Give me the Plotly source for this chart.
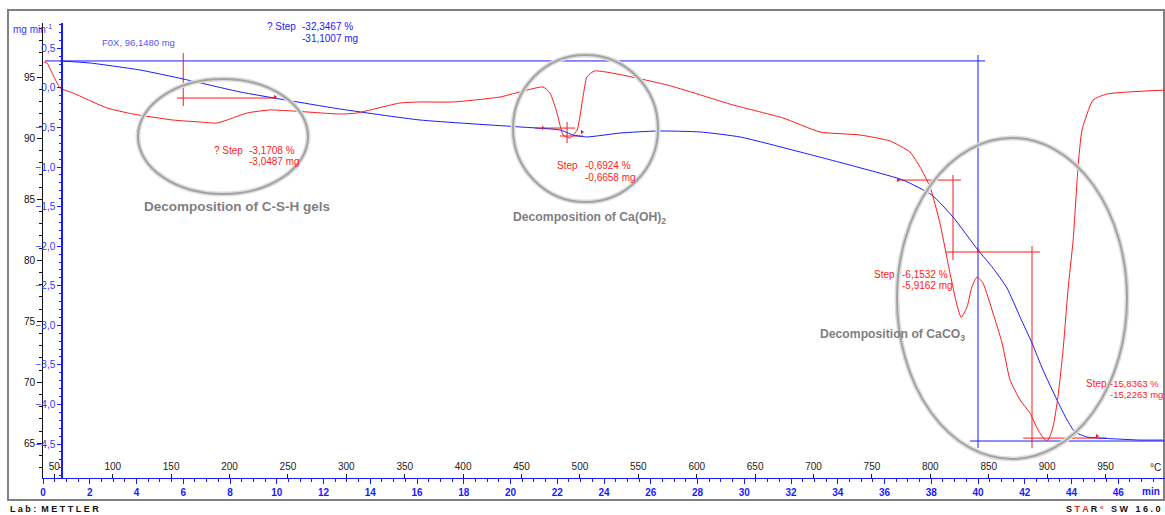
import plotly.graph_objects as go

# ---------------- data ----------------
# TGA curve: time (min) vs mass (mg)
tga_time = [0.73, 2.01, 4.15, 6.0, 8.43, 10.14, 12.71, 16.13, 20.41, 22.12, 22.67, 23.27,
            24.68, 26.27, 28.11, 29.82, 32.39, 34.52, 36.79, 38.03, 38.93, 40.0, 40.64,
            41.24, 41.80, 42.31, 42.78, 43.38, 43.81, 44.15, 44.66, 45.22, 46.93, 47.91]
tga_mass = [96.34, 96.17, 95.60, 94.86, 93.80, 93.22, 92.40, 91.50, 90.93, 90.68, 90.27, 90.11,
            90.43, 90.60, 90.52, 90.11, 88.88, 87.81, 86.58, 85.35, 83.55, 80.84, 79.37,
            77.73, 75.35, 73.22, 71.01, 68.55, 66.91, 65.93, 65.52, 65.43, 65.27, 65.27]

# DTG curve: time (min) vs mg/min
dtg_time = [0.04, 0.17, 0.39, 0.73, 1.28, 2.74, 3.85, 5.56, 6.72, 7.44, 7.87, 8.73, 9.71,
            10.69, 12.71, 13.43, 15.27, 16.13, 17.54, 19.55, 21.39, 21.69, 21.99, 22.25,
            22.55, 22.85, 23.10, 23.27, 23.6, 26.70, 29.52, 31.66, 33.24, 34.95, 36.24,
            37.09, 37.52, 37.95, 38.37, 38.80, 39.10, 39.28, 39.53, 39.74, 39.96, 40.21,
            40.64, 41.03, 41.37, 41.80, 42.22, 42.57, 42.87, 43.0, 43.21, 43.42, 43.64,
            43.85, 44.07, 44.28, 44.45, 44.92, 45.52, 48.0]
dtg_value = [0.327, 0.315, 0.188, 0.0, -0.064, -0.254, -0.330, -0.406, -0.431, -0.444, -0.406,
             -0.317, -0.279, -0.292, -0.330, -0.317, -0.191, -0.178, -0.178, -0.115, 0.011,
             -0.064, -0.317, -0.595, -0.633, -0.532, -0.115, 0.138, 0.214, 0.037, -0.216,
             -0.380, -0.557, -0.595, -0.671, -0.810, -1.0, -1.253, -1.707, -2.339, -2.743,
             -2.90, -2.768, -2.515, -2.389, -2.465, -2.844, -3.223, -3.690, -3.943, -4.107,
             -4.322, -4.449, -4.449, -4.284, -3.905, -3.311, -2.553, -1.921, -0.999, -0.531,
             -0.153, -0.077, -0.027]

# step evaluation lines (time min, mass mg), each a separate segment
red_steps = [
    ([6.0, 6.0], [96.99, 92.64]), ([5.73, 9.93], [93.30, 93.30]),
    ([21.05, 22.76], [90.84, 90.84]), ([22.42, 22.42], [91.34, 89.61]), ([22.12, 23.10], [90.19, 90.19]),
    ([36.58, 39.27], [86.58, 86.58]), ([38.93, 38.93], [86.99, 80.02]),
    ([38.63, 42.65], [80.68, 80.68]), ([42.31, 42.31], [81.17, 64.61]),
    ([41.93, 45.52], [65.43, 65.43]),
]
blue_steps = [
    ([0.09, 40.30], [96.34, 96.34]), ([40.0, 40.0], [96.83, 64.61]), ([39.66, 48.0], [65.19, 65.19]),
]
red_flag_time = [9.93, 21.39, 23.06, 36.58, 40.0, 45.09]
red_flag_mass = [93.38, 90.84, 90.52, 86.58, 80.84, 65.60]

time_ticks = list(range(0, 47, 2))
temp_ticks = list(range(50, 951, 50))
mass_ticks = [65, 70, 75, 80, 85, 90, 95]
dtg_ticks = [0.5, 0.0, -0.5, -1.0, -1.5, -2.0, -2.5, -3.0, -3.5, -4.0, -4.5]

# ---------------- layout geometry ----------------
W, H = 1165, 515
L, R, T, B = 43, 0, 23, 37
PW, PH = W - L - R, H - T - B
BOT = H - B


def pp(x, y):
    return (x - L) / PW, (BOT - y) / PH


BLUE = "#1a1aff"
RED = "#ff1a1a"
FONT = "Liberation Sans, Arial, sans-serif"

fig = go.Figure()

for xs, ys in blue_steps:
    fig.add_trace(go.Scatter(x=xs, y=ys, mode="lines", line=dict(color=BLUE, width=1),
                             hoverinfo="skip", showlegend=False))
for xs, ys in red_steps:
    fig.add_trace(go.Scatter(x=xs, y=ys, mode="lines", line=dict(color=RED, width=1),
                             hoverinfo="skip", showlegend=False))

fig.add_trace(go.Scatter(x=dtg_time, y=dtg_value, yaxis="y2", mode="lines",
                         line=dict(color=RED, width=1, shape="spline", smoothing=0.5),
                         showlegend=False))
fig.add_trace(go.Scatter(x=tga_time, y=tga_mass, mode="lines",
                         line=dict(color=BLUE, width=1, shape="spline", smoothing=0.5),
                         showlegend=False))
fig.add_trace(go.Scatter(x=red_flag_time, y=red_flag_mass, mode="markers",
                         marker=dict(symbol="triangle-right", size=4, color=RED),
                         hoverinfo="skip", showlegend=False))
# invisible trace to activate temperature axis
fig.add_trace(go.Scatter(x=[temp_ticks[0], temp_ticks[-1]], y=[70, 70], xaxis="x2", mode="markers",
                         marker=dict(opacity=0), hoverinfo="skip", showlegend=False))

# ---------------- annotations ----------------
ann = []


def text(x, y, s, color, size=10, bold=False, anchor="left"):
    px_, py_ = pp(x, y)
    ann.append(dict(x=px_, y=py_, xref="paper", yref="paper", text=s, showarrow=False,
                    xanchor=anchor, yanchor="middle",
                    font=dict(family=FONT, size=size, color=color,
                              weight="bold" if bold else "normal")))


text(100, 43, "F0X, 96,1480 mg", "#5555ff", 9.5)
text(265, 27, "? Step", BLUE, 10)
text(300, 27, "-32,3467 %", BLUE, 10)
text(300, 39, "-31,1007 mg", BLUE, 10)

text(212, 150, "? Step", RED, 10)
text(247, 150, "-3,1708 %", RED, 10)
text(247, 161, "-3,0487 mg", RED, 10)

text(555, 165, "Step", RED, 10)
text(583, 165, "-0,6924 %", RED, 10)
text(583, 177, "-0,6658 mg", RED, 10)

text(872, 274, "Step", RED, 10)
text(900, 274, "-6,1532 %", RED, 10)
text(900, 285, "-5,9162 mg", RED, 10)

text(1084, 383, "Step", RED, 10)
text(1108, 383, "-15,8363 %", RED, 9.5)
text(1108, 394, "-15,2263 mg", RED, 9.5)

GRAY = "#7f7f7f"
text(142, 206, "Decomposition of C-S-H gels", GRAY, 13.5, True)
text(511, 218, "Decomposition of Ca(OH)<sub>2</sub>", GRAY, 12.2, True)
text(818, 335, "Decomposition of CaCO<sub>3</sub>", GRAY, 12.2, True)

text(11, 29, "mg min<sup>-1</sup>", "#3333ff", 10)
text(1162, 492, "min", BLUE, 10, True, anchor="right")
text(1163, 467, "°C", "#222222", 10, anchor="right")
text(8, 509, "L a b :  M E T T L E R", "#111111", 9, True)
text(1163, 509, "S <span style='color:#e02020'>T A</span> R <span style='color:#e02020'>°</span>"
     "   S W   1 6 . 0", "#111111", 9, True, anchor="right")

# ---------------- shapes (ellipses, frame) ----------------
shapes = []
ellipses = [(138, 79, 308, 194), (513, 55, 658, 202), (897, 138, 1127, 459)]
for (x0, y0, x1, y1) in ellipses:
    a0, b1 = pp(x0, y0)
    a1, b0 = pp(x1, y1)
    shapes.append(dict(type="circle", xref="paper", yref="paper", x0=a0, x1=a1, y0=b0, y1=b1,
                       line=dict(color="#dddddd", width=5)))
    shapes.append(dict(type="circle", xref="paper", yref="paper", x0=a0, x1=a1, y0=b0, y1=b1,
                       line=dict(color="#a3a3a3", width=2)))
f0, g1 = pp(8, 10)
f1, g0 = pp(1164, 500)
shapes.append(dict(type="rect", xref="paper", yref="paper", x0=f0, x1=f1, y0=g0, y1=g1,
                   line=dict(color="#808080", width=2), layer="below"))

fig.update_layout(
    width=W, height=H, autosize=False,
    margin=dict(l=L, r=R, t=T, b=B),
    paper_bgcolor="white", plot_bgcolor="white",
    separators=", ",
    showlegend=False,
    annotations=ann, shapes=shapes,
    xaxis=dict(range=[0, 48], tickvals=time_ticks, showgrid=False, zeroline=False,
               showline=True, linecolor=BLUE, linewidth=1,
               ticks="outside", ticklen=5, tickcolor=BLUE,
               minor=dict(dtick=0.5, ticklen=3, tickcolor=BLUE, ticks="outside"),
               tickfont=dict(family=FONT, size=10, color=BLUE, weight="bold")),
    xaxis2=dict(range=[40.3, 1000.9], overlaying="x", anchor="free", position=0, side="top",
                tickvals=temp_ticks, showgrid=False, zeroline=False, showline=False,
                ticks="outside", ticklen=4, tickcolor="#222222",
                tickfont=dict(family=FONT, size=10, color="#222222")),
    yaxis=dict(range=[62.16, 99.45], tickvals=mass_ticks, showgrid=False, zeroline=False,
               showline=True, linecolor="#111111", linewidth=1,
               ticks="outside", ticklen=5, tickcolor="#111111",
               minor=dict(dtick=1, ticklen=3, tickcolor="#111111", ticks="outside"),
               tickfont=dict(family=FONT, size=10, color="#111111")),
    yaxis2=dict(range=[-4.929, 0.820], overlaying="y", anchor="free", position=(62 - L) / PW,
                side="left", tickvals=dtg_ticks, tickformat=".1f", showgrid=False, zeroline=False,
                showline=True, linecolor=BLUE, linewidth=1.5,
                ticks="outside", ticklen=4, tickcolor=BLUE,
                minor=dict(dtick=0.1, ticklen=2, tickcolor=BLUE, ticks="outside"),
                ticklabelstandoff=0,
                tickfont=dict(family=FONT, size=10, color="#3333ff")),
)

fig.write_html("out.html", config={"displayModeBar": False},
               post_script="document.body.style.margin='0px';document.body.style.overflow='hidden';")
